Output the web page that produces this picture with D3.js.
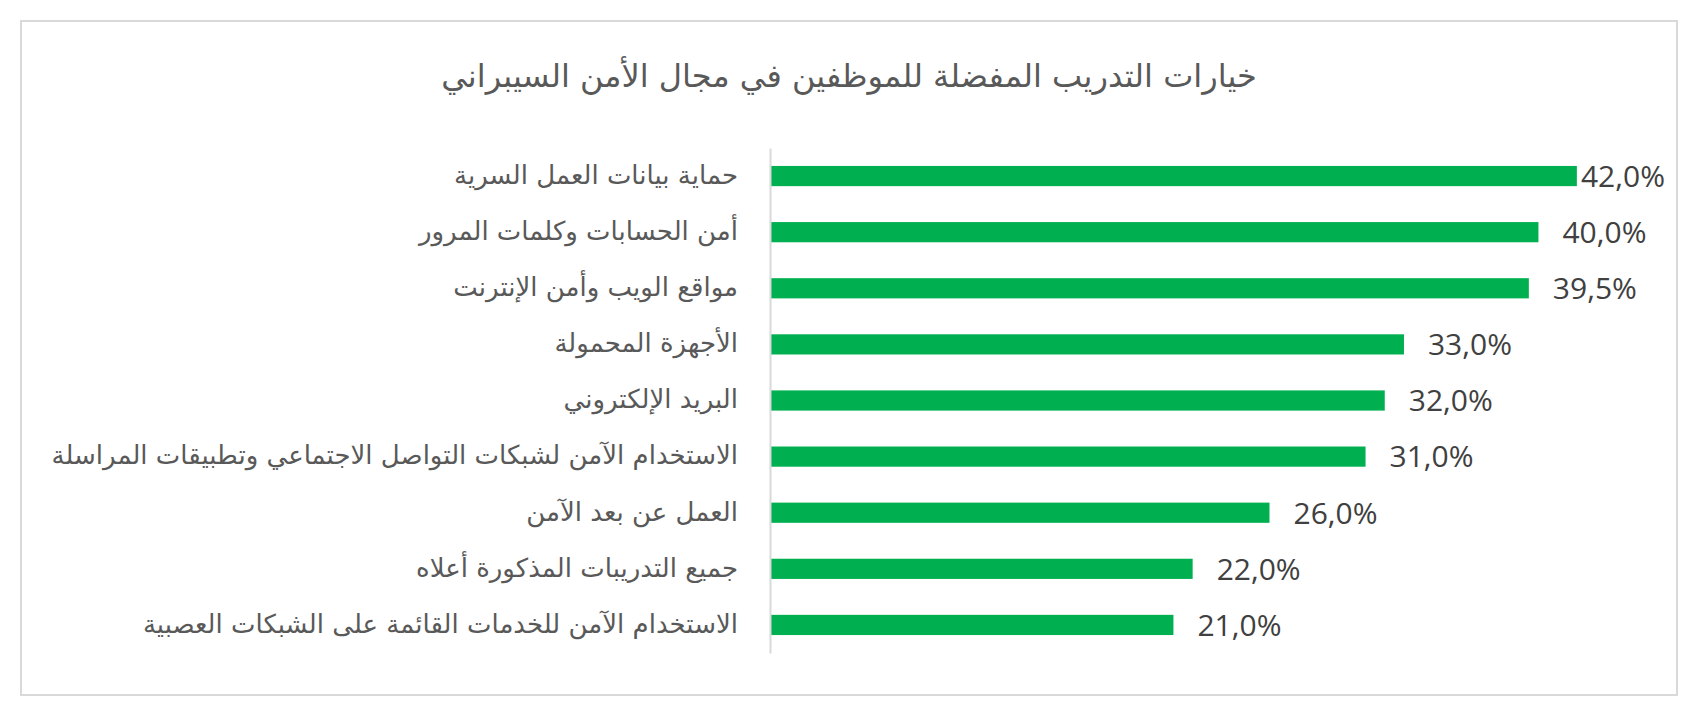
<!DOCTYPE html>
<html>
<head>
<meta charset="utf-8">
<script src="https://d3js.org/d3.v7.min.js"></script>
<style>
  body { margin: 0; background: #fff; }
</style>
</head>
<body>
<script>
  // chart data
  const title = "خيارات التدريب المفضلة للموظفين في مجال الأمن السيبراني";
  const categories = [
    "حماية بيانات العمل السرية",
    "أمن الحسابات وكلمات المرور",
    "مواقع الويب وأمن الإنترنت",
    "الأجهزة المحمولة",
    "البريد الإلكتروني",
    "الاستخدام الآمن لشبكات التواصل الاجتماعي وتطبيقات المراسلة",
    "العمل عن بعد الآمن",
    "جميع التدريبات المذكورة أعلاه",
    "الاستخدام الآمن للخدمات القائمة على الشبكات العصبية"
  ];
  const values = [0.42, 0.40, 0.395, 0.33, 0.32, 0.31, 0.26, 0.22, 0.21];

  const w = 1701;
  const h = 714;

  const fmt = (v) => d3.format(".1%")(v).replace(".", ",");

  const svg = d3.select("body")
                .append("svg")
                .attr("width", w)
                .attr("height", h);

  // outer frame
  svg.append("rect")
     .attr("x", 21).attr("y", 21)
     .attr("width", 1656).attr("height", 674)
     .attr("fill", "#fff")
     .attr("stroke", "#d9d9d9")
     .attr("stroke-width", 2);

  svg.append("text")
     .attr("x", 849)
     .attr("y", 87)
     .attr("text-anchor", "middle")
     .attr("font-family", "DejaVu Sans")
     .attr("font-size", 32)
     .attr("fill", "#595959")
     .text(title);

  const xScale = d3.scaleLinear()
                   .domain([0, 0.45])
                   .range([770, 1634.5]);

  const yScale = d3.scaleBand()
                   .domain(categories)
                   .range([148, 653])
                   .paddingInner(0.64)
                   .paddingOuter(0.32);

  svg.selectAll("rect.bar")
     .data(values)
     .enter()
     .append("rect")
     .attr("class", "bar")
     .attr("x", xScale(0))
     .attr("y", (d, i) => yScale(categories[i]))
     .attr("width", (d) => xScale(d) - xScale(0))
     .attr("height", yScale.bandwidth())
     .attr("fill", "#00b050");

  const yAxis = d3.axisLeft(yScale).tickSize(0).tickPadding(32);

  const gy = svg.append("g")
                .attr("transform", "translate(" + xScale(0) + ",0)")
                .call(yAxis);

  gy.select(".domain")
    .attr("stroke", "#d9d9d9")
    .attr("stroke-width", 2);

  gy.selectAll("text")
    .attr("font-family", "DejaVu Sans")
    .attr("font-size", 26)
    .attr("fill", "#595959")
    .attr("dy", "0.3em");

  // value labels, kept inside the plot area like Excel does
  const labels = svg.selectAll("text.val")
     .data(values)
     .enter()
     .append("text")
     .attr("class", "val")
     .attr("y", (d, i) => yScale(categories[i]) + yScale.bandwidth() / 2)
     .attr("dy", "0.36em")
     .attr("font-family", "Open Sans")
     .attr("font-size", 30)
     .attr("fill", "#404040")
     .text((d) => fmt(d));

  labels.each(function(d) {
    const len = this.getComputedTextLength();
    const x = Math.min(xScale(d) + 24, 1665 - len);
    d3.select(this).attr("x", x);
  });
</script>
</body>
</html>
